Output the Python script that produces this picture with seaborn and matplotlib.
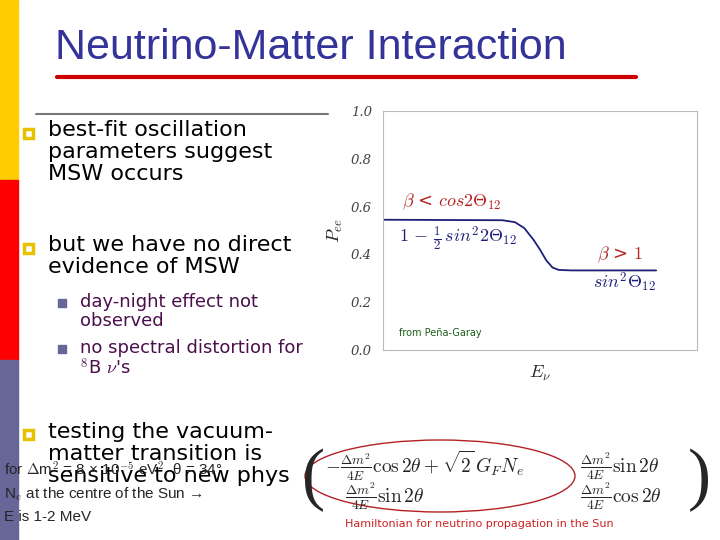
import matplotlib
matplotlib.use("Agg")
import matplotlib.pyplot as plt
import seaborn as sns
import pandas as pd
from matplotlib.patches import Rectangle, Ellipse

energy = [0, 3.8, 4.2, 4.5, 4.8, 5.0, 5.2, 5.4, 5.6, 6.0, 8.7]
pee = [0.545, 0.543, 0.535, 0.51, 0.46, 0.42, 0.375, 0.345, 0.335, 0.333, 0.333]
yticks = [0.0, 0.2, 0.4, 0.6, 0.8, 1.0]

sns.set_style("white")
plt.rcParams['font.family'] = ['DejaVu Sans']
plt.rcParams['mathtext.fontset'] = 'cm'
W, H = 720, 540
fig = plt.figure(figsize=(7.2, 5.4), dpi=100)
def fx(x): return x / W
def fy(y): return 1 - y / H

for y0, y1, c in [(0, 180, '#FFCC00'), (180, 360, '#FF0000'), (360, 540, '#666699')]:
    fig.patches.append(Rectangle((0, fy(y1)), fx(18), (y1 - y0) / H, color=c, transform=fig.transFigure))

fig.text(fx(55), fy(48), "Neutrino-Matter Interaction", fontsize=31, color='#333399', va='center',
         family='Liberation Sans')
fig.add_artist(plt.Line2D([fx(57), fx(636)], [fy(77), fy(77)], color='#CC0000', lw=3))
fig.add_artist(plt.Line2D([fx(36), fx(328)], [fy(114), fy(114)], color='#777777', lw=1.5))

def bullet(x, y, c, s):
    fig.patches.append(Rectangle((fx(x), fy(y + s)), s / W, s / H, facecolor='none', edgecolor=c, lw=2.5,
                                 transform=fig.transFigure))

kw = dict(fontsize=16, va='top', linespacing=1.12, color='black')
bullet(24, 129, '#E6C200', 9)
fig.text(fx(48), fy(120), "best-fit oscillation\nparameters suggest\nMSW occurs", **kw)
bullet(24, 244, '#E6C200', 9)
fig.text(fx(48), fy(235), "but we have no direct\nevidence of MSW", **kw)
for y in [299, 345]:
    fig.patches.append(Rectangle((fx(58), fy(y + 8)), 8 / W, 8 / H, color='#666699', transform=fig.transFigure))
fig.text(fx(80), fy(293), "day-night effect not\nobserved", fontsize=13, va='top', color='#4B0F4B',
         linespacing=1.05)
fig.text(fx(80), fy(339), "no spectral distortion for\n$^8$B $\\nu$'s", fontsize=13, va='top', color='#4B0F4B',
         linespacing=1.05)
bullet(24, 430, '#E6C200', 9)
fig.text(fx(48), fy(422), "testing the vacuum-\nmatter transition is\nsensitive to new phys", **kw)
sk = dict(fontsize=11, va='center', family='Liberation Sans')
fig.text(fx(4), fy(470), "for $\\Delta$m$^2$ = 8 × 10$^{-5}$ eV$^2$, θ = 34°", **sk)
fig.text(fx(4), fy(494), "N$_e$ at the centre of the Sun →", **sk)
fig.text(fx(4), fy(517), "E is 1-2 MeV", **sk)

# matrix
fig.text(fx(302), fy(480), "(", fontsize=50, va='center', family='Liberation Serif')
fig.text(fx(688), fy(480), ")", fontsize=50, va='center', family='Liberation Serif')
fig.text(fx(325), fy(466), "$-\\frac{\\Delta m^2}{4E}\\cos 2\\theta+\\sqrt{2}\\,G_F N_e$", fontsize=14, va='center')
fig.text(fx(580), fy(466), "$\\frac{\\Delta m^2}{4E}\\sin 2\\theta$", fontsize=14, va='center')
fig.text(fx(345), fy(496), "$\\frac{\\Delta m^2}{4E}\\sin 2\\theta$", fontsize=14, va='center')
fig.text(fx(580), fy(496), "$\\frac{\\Delta m^2}{4E}\\cos 2\\theta$", fontsize=14, va='center')
fig.add_artist(Ellipse((fx(440), fy(476)), 270 / W, 72 / H, transform=fig.transFigure, facecolor='none',
                       edgecolor='#B22222', lw=1))
fig.text(fx(345), fy(524), "Hamiltonian for neutrino propagation in the Sun", fontsize=8, color='#CC2222',
         va='center')

# chart
ax = fig.add_axes([fx(383), fy(350), 314 / W, 239 / H])
df = pd.DataFrame({"E": energy, "P": pee})
sns.lineplot(data=df, x="E", y="P", ax=ax, color='#1F1F7A', lw=1.3)
ax.set_xlim(0, 10)
ax.set_ylim(0, 1.0)
ax.set_yticks(yticks)
ax.set_yticklabels([f"{v:.1f}" for v in yticks], fontsize=9.5, family='DejaVu Serif', style='italic',
                   color='#444444')
ax.set_xticks([])
ax.tick_params(axis='y', length=0, pad=8)
for s in ax.spines.values():
    s.set_color('#BBBBBB')
    s.set_linewidth(0.8)
ax.set_xlabel("$E_\\nu$", fontsize=13, labelpad=10)
ax.set_ylabel("$P_{ee}$", fontsize=13, labelpad=4)
ax.text(0.6, 0.6, "$\\beta$ < $cos2\\Theta_{12}$", color='#B22222', fontsize=13)
ax.text(0.5, 0.45, "$1\\,-\\,\\frac{1}{2}\\,sin^2 2\\Theta_{12}$", color='#1F1F7A', fontsize=13)
ax.text(6.8, 0.38, "$\\beta$ > $1$", color='#B22222', fontsize=13)
ax.text(6.7, 0.26, "$sin^2\\Theta_{12}$", color='#1F1F7A', fontsize=13)
ax.text(0.5, 0.06, "from Peña-Garay", color='#1A5E1A', fontsize=7)

fig.savefig("out.png", dpi=100)
